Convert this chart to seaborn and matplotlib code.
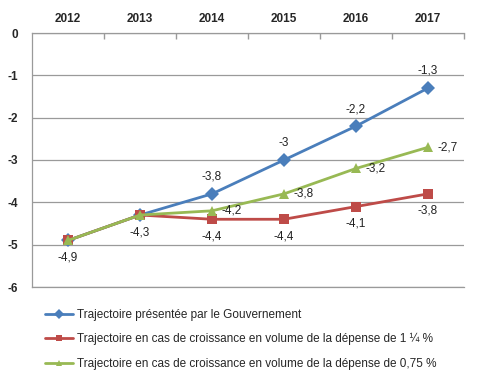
import matplotlib
matplotlib.use("Agg")
import matplotlib.pyplot as plt
import seaborn as sns
import pandas as pd
from matplotlib.ticker import FixedLocator

years = [2012, 2013, 2014, 2015, 2016, 2017]
gouvernement = [-4.9, -4.3, -3.8, -3.0, -2.2, -1.3]
croissance_1_25 = [-4.9, -4.3, -4.4, -4.4, -4.1, -3.8]
croissance_0_75 = [-4.9, -4.3, -4.2, -3.8, -3.2, -2.7]

series_names = [
    "Trajectoire présentée par le Gouvernement",
    "Trajectoire en cas de croissance en volume de la dépense de 1 ¼ %",
    "Trajectoire en cas de croissance en volume de la dépense de 0,75 %",
]
series_values = [gouvernement, croissance_1_25, croissance_0_75]
colors = ["#4A7EBB", "#BE4B48", "#98B954"]
markers = ["D", "s", "^"]

rows = []
for name, vals in zip(series_names, series_values):
    for y, v in zip(years, vals):
        rows.append({"annee": y, "valeur": v, "serie": name})
df = pd.DataFrame(rows)

sns.set_theme(style="white")
plt.rcParams["font.family"] = ["Liberation Sans", "DejaVu Sans"]

fig = plt.figure(figsize=(4.8, 3.81), dpi=100)
ax = fig.add_axes([32 / 480, 1 - 287 / 381, 432 / 480, 254 / 381])

sns.lineplot(data=df, x="annee", y="valeur", hue="serie", style="serie",
             palette=colors, markers=markers, dashes=False, linewidth=2,
             markersize=7, markeredgewidth=0, ax=ax, legend=True)

def fmt(v):
    s = f"{v:.1f}".replace(".", ",")
    return s[:-2] if s.endswith(",0") else s

lab_size = 8.5
# data labels: blue above, red below, green right
for i, (y, v) in enumerate(zip(years, gouvernement)):
    if i >= 2:
        ax.annotate(fmt(v), (y, v), xytext=(0, 8), textcoords="offset points",
                    ha="center", va="bottom", fontsize=lab_size, color="#222222")
for y, v in zip(years, croissance_1_25):
    ax.annotate(fmt(v), (y, v), xytext=(0, -8), textcoords="offset points",
                ha="center", va="top", fontsize=lab_size, color="#222222")
for i, (y, v) in enumerate(zip(years, croissance_0_75)):
    if i >= 2:
        ax.annotate(fmt(v), (y, v), xytext=(7, 0), textcoords="offset points",
                    ha="left", va="center", fontsize=lab_size, color="#222222")

ax.set_xlim(2011.5, 2017.5)
ax.set_ylim(-6, 0)
ax.set_yticks(range(-6, 1))
ax.set_yticklabels([str(t) for t in range(-6, 1)], fontweight="bold", fontsize=8.5)
ax.xaxis.tick_top()
ax.set_xticks(years)
ax.set_xticklabels([str(y) for y in years], fontweight="bold", fontsize=8.5)
ax.xaxis.set_minor_locator(FixedLocator([y + 0.5 for y in years]))
ax.tick_params(axis="x", which="major", length=0, pad=6)
ax.tick_params(axis="x", which="minor", length=4, direction="in", color="#9A9A9A", top=True)
ax.tick_params(axis="y", length=0, pad=10)
ax.set_xlabel("")
ax.set_ylabel("")
ax.grid(axis="y", color="#9A9A9A", linewidth=0.9)
ax.set_axisbelow(True)
ax.spines["right"].set_visible(False)
for side in ["left", "top", "bottom"]:
    ax.spines[side].set_color("#9A9A9A")
    ax.spines[side].set_linewidth(0.9)

handles, labels = ax.get_legend_handles_labels()
for h in handles:
    h.set_markersize(5)
ax.get_legend().remove()
fig.legend(handles, labels, loc="upper left", bbox_to_anchor=(40 / 480, 1 - 304 / 381),
           frameon=False, fontsize=8.5, handlelength=2.4, handletextpad=0.3,
           labelspacing=1.05, borderaxespad=0)

fig.savefig("out.png", dpi=100)
